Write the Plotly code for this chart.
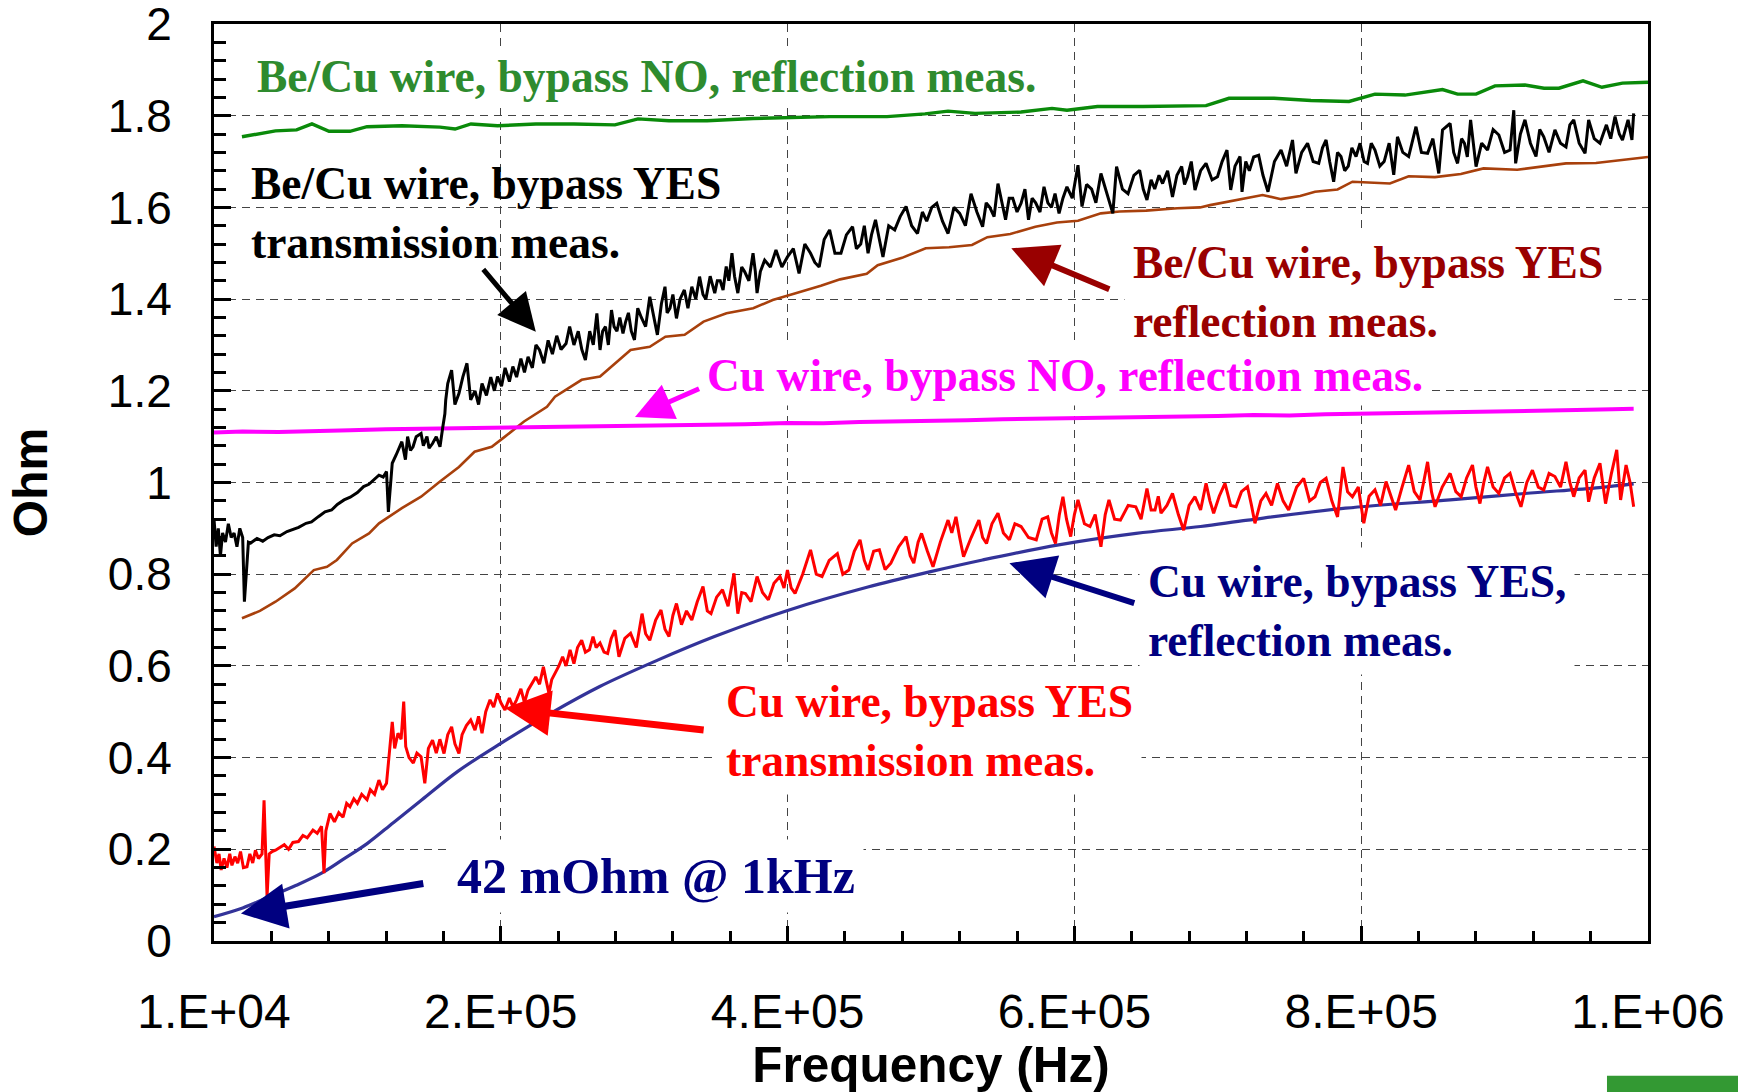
import plotly.graph_objects as go

# ---------------- data (frequency in kHz, impedance in Ohm) ----------------
green_f = [29.5, 39.3, 52.9, 67.6, 78.3, 90.2, 104.8, 116.7, 141.1, 167.6, 178.1, 189.2, 207.7,
           234.5, 261.0, 289.6, 305.7, 327.3, 353.8, 385.9, 412.4, 439.6, 479.3, 505.8, 521.9,
           540.7, 572.8, 594.4, 604.8, 626.1, 657.8, 701.8, 717.8, 749.2, 775.0, 801.5, 819.6,
           840.5, 866.7, 877.2, 890.1, 903.3, 924.2, 937.5, 947.9, 964.7, 977.9, 992.2, 1010.0]
green_v = [1.754, 1.760, 1.767, 1.769, 1.782, 1.766, 1.766, 1.776, 1.778, 1.775, 1.771, 1.782, 1.778,
           1.782, 1.782, 1.780, 1.793, 1.789, 1.789, 1.794, 1.796, 1.798, 1.798, 1.804, 1.810,
           1.805, 1.808, 1.816, 1.812, 1.820, 1.820, 1.822, 1.838, 1.838, 1.833, 1.831, 1.847,
           1.845, 1.857, 1.847, 1.847, 1.865, 1.867, 1.860, 1.860, 1.876, 1.862, 1.871, 1.873]

brown_f = [29.5, 42.0, 52.9, 66.3, 79.6, 88.8, 95.7, 106.3, 118.1, 125.1, 141.0, 154.4, 167.6,
           180.8, 191.7, 203.7, 212.9, 226.2, 242.2, 247.8, 266.4, 279.2, 300.5, 313.9, 324.8,
           338.2, 351.4, 367.4, 386.0, 399.6, 415.6, 433.2, 446.6, 465.2, 472.8, 489.8, 506.3,
           522.6, 538.6, 549.3, 565.3, 582.8, 597.8, 612.5, 628.5, 641.5, 660.0, 681.7, 697.6,
           704.6, 741.2, 754.1, 767.4, 777.8, 793.5, 803.9, 830.0, 843.1, 861.4, 879.5, 895.3,
           918.8, 952.8, 973.7, 1010.0]
brown_v = [0.704, 0.720, 0.740, 0.769, 0.809, 0.816, 0.831, 0.867, 0.889, 0.911, 0.944, 0.969, 1.002,
           1.034, 1.067, 1.078, 1.100, 1.133, 1.165, 1.187, 1.224, 1.231, 1.289, 1.296, 1.318,
           1.322, 1.351, 1.369, 1.380, 1.398, 1.413, 1.429, 1.443, 1.455, 1.474, 1.490, 1.511,
           1.513, 1.518, 1.535, 1.542, 1.558, 1.567, 1.571, 1.587, 1.591, 1.593, 1.598, 1.600,
           1.605, 1.627, 1.618, 1.625, 1.634, 1.639, 1.656, 1.652, 1.668, 1.666, 1.673, 1.685,
           1.682, 1.696, 1.697, 1.710]

magenta_f = [10, 30, 55, 80, 105, 130, 155, 180, 205, 230, 255, 280, 305, 330, 355, 380, 410, 435,
             460, 485, 510, 535, 560, 585, 610, 635, 660, 685, 710, 735, 760, 785, 810, 835, 860,
             885, 910, 935, 960, 985, 1000]
magenta_v = [1.109, 1.111, 1.110, 1.113, 1.114, 1.116, 1.117, 1.119, 1.121, 1.120, 1.122, 1.123,
             1.124, 1.126, 1.125, 1.127, 1.130, 1.129, 1.132, 1.133, 1.133, 1.136, 1.138, 1.139,
             1.140, 1.142, 1.141, 1.144, 1.145, 1.147, 1.146, 1.149, 1.150, 1.152, 1.153, 1.154,
             1.155, 1.157, 1.158, 1.160, 1.161]

navy_f = [10, 30, 49, 67, 85, 100, 117, 135, 155, 180, 210, 245, 279, 319, 359, 410, 466, 509,
          546, 599, 653, 698, 731, 799, 872, 924, 976, 1000]
navy_v = [0.053, 0.072, 0.097, 0.121, 0.148, 0.178, 0.213, 0.258, 0.308, 0.370, 0.431, 0.497,
          0.555, 0.612, 0.664, 0.721, 0.772, 0.805, 0.831, 0.864, 0.889, 0.904, 0.918, 0.944,
          0.962, 0.976, 0.989, 0.997]

black_f = [10, 11.5, 13, 14.5, 16, 18, 20, 22, 24, 26, 28, 30, 31.2, 32.5, 34, 35.6, 40, 44, 47.7,
           52, 56, 60.9, 65, 69, 74.2, 78, 83, 87.4, 92, 96, 100.7, 105, 110, 114.3, 118, 122,
           125, 128, 130.3, 131.6, 134.3, 137, 141, 143.5, 145, 147, 148.8, 151, 154.4, 156,
           158.5, 160, 162.4, 165, 167.6, 169.5, 171, 171.6, 173, 175.7, 178, 180.8, 183.5,
           186.4, 189, 192, 194.5, 196.9, 200, 203, 205.5, 207.7, 210.5, 213, 216, 218.4, 221,
           224, 226.5, 229, 232, 234.5, 237, 240, 243, 246, 249, 252, 255.5, 258, 261, 264,
           266.5, 269, 272, 274.5, 277,
           279.2, 281, 283, 285, 287.2, 289, 291, 293, 295.2, 297, 299, 301, 303.2, 305.5, 308, 311,
           313.9, 316.5, 319.2, 322, 324.5, 326, 328, 330, 332.5, 335, 338, 340.5, 343.2, 346,
           348.6, 351, 353, 356, 359.2, 361, 363, 365, 367.2, 369, 371.2, 373, 375.3, 378, 380,
           383, 385.9, 387.5, 388.7, 391, 394, 398, 401.9, 406, 409.9, 414, 418, 422, 426, 429,
           432, 435.5, 439.3, 443, 447.2, 451, 455.3, 458, 461, 463.5, 466.1, 468.5, 471.3, 474,
           476.5, 480.5, 484.7, 488.5, 492.6, 496.5, 500.6, 504, 507, 510.5, 514, 518, 521.9,
           526, 530, 534, 537.9, 542, 546, 548.5, 551, 554, 556.7, 559.5, 562, 564.5, 567, 570,
           572.8, 575.5, 578, 580.5, 583, 586, 588.8, 591.5, 594, 596.5, 599.3, 602, 604.8,
           608.5, 612.5, 615.3, 618.5, 622, 625, 628.5, 632.5, 636.8, 639.4, 643.5, 647.4,
           651.5, 655.5, 658, 660.6, 663.5, 666, 669, 671.5, 675, 678.4, 681.5, 684.8, 686.8,
           688.9, 691.5, 694.1, 698, 701.8, 706, 709.8, 713, 716.4, 719, 722, 725.5, 726.9,
           729.5, 732, 735, 738.5, 741.5, 745, 749.5, 754.1, 758, 762.1, 764.5, 768.5, 772.6,
           776.5, 780.4, 783, 785.5, 788, 790.8, 793.5, 795.9, 798.5, 801, 803.5, 806.4, 809.2,
           812, 814.4, 817, 819.6, 823, 826, 829.5, 832.7, 835.3, 839, 843.1, 848.2, 852, 856.3,
           860, 864.1, 866.7, 872, 874.5, 877.2, 880, 882, 884, 886.3, 890.1, 894, 898.1, 902,
           906, 910, 913.8, 916.4, 917.7, 921, 924.2, 928, 931.9, 934.5, 937.3, 941, 945.1, 949,
           952.8, 955.5, 958.2, 962, 966.1, 968.6, 972.5, 976.5, 981, 984, 987, 990, 992.2,
           996.1, 998.8, 1000]
black_v = [0.92, 0.86, 0.90, 0.84, 0.89, 0.87, 0.91, 0.88, 0.89, 0.86, 0.90, 0.88, 0.74, 0.80, 0.87,
           0.868, 0.878, 0.872, 0.880, 0.886, 0.884, 0.893, 0.898, 0.902, 0.911, 0.914, 0.926,
           0.936, 0.940, 0.952, 0.962, 0.968, 0.978, 0.991, 0.996, 1.008, 1.016, 1.012, 1.024,
           0.936, 1.042, 1.06, 1.089, 1.05, 1.10, 1.07, 1.078, 1.10, 1.107, 1.08, 1.10, 1.075,
           1.085, 1.10, 1.078, 1.12, 1.15, 1.18, 1.216, 1.245, 1.17, 1.194, 1.23, 1.260, 1.180,
           1.20, 1.17, 1.216, 1.19, 1.23, 1.20, 1.231, 1.21, 1.25, 1.22, 1.253, 1.23, 1.27, 1.24,
           1.274, 1.25, 1.30, 1.289, 1.26, 1.31, 1.28, 1.32, 1.29, 1.303, 1.34, 1.30, 1.33, 1.29,
           1.267, 1.33, 1.30, 1.369,
           1.289, 1.33, 1.34, 1.30, 1.376, 1.34, 1.33, 1.36, 1.325, 1.35, 1.37, 1.33, 1.311, 1.38,
           1.36, 1.34, 1.405, 1.36, 1.322, 1.39, 1.427, 1.37, 1.38, 1.41, 1.358, 1.40, 1.42, 1.38,
           1.427, 1.40, 1.449, 1.41, 1.40, 1.45, 1.413, 1.44, 1.44, 1.42, 1.471, 1.44, 1.500,
           1.45, 1.413, 1.47, 1.46, 1.44, 1.500, 1.46, 1.413, 1.46, 1.485, 1.47, 1.507, 1.47,
           1.492, 1.51, 1.456, 1.52, 1.500, 1.48, 1.47, 1.53, 1.551, 1.50, 1.500, 1.54, 1.558,
           1.51, 1.52, 1.56, 1.500, 1.54, 1.573, 1.53, 1.492, 1.56, 1.551, 1.58, 1.602, 1.56,
           1.543, 1.59, 1.57, 1.60, 1.609, 1.57, 1.543, 1.60, 1.587, 1.56, 1.630, 1.59, 1.558,
           1.61, 1.60, 1.58, 1.652, 1.61, 1.573, 1.62, 1.62, 1.59, 1.609, 1.64, 1.573, 1.62, 1.61,
           1.59, 1.645, 1.61, 1.60, 1.63, 1.587, 1.62, 1.645, 1.62, 1.692, 1.602, 1.65, 1.64,
           1.61, 1.674, 1.63, 1.587, 1.689, 1.64, 1.630, 1.67, 1.681, 1.64, 1.616, 1.66, 1.64,
           1.67, 1.652, 1.68, 1.623, 1.67, 1.689, 1.65, 1.667, 1.70, 1.638, 1.68, 1.696, 1.66,
           1.667, 1.70, 1.725, 1.638, 1.69, 1.711, 1.634, 1.70, 1.68, 1.71, 1.714, 1.67, 1.634,
           1.70, 1.725, 1.69, 1.747, 1.674, 1.72, 1.740, 1.70, 1.696, 1.73, 1.747, 1.70, 1.656,
           1.72, 1.711, 1.68, 1.69, 1.73, 1.711, 1.740, 1.70, 1.696, 1.74, 1.725, 1.69, 1.70,
           1.74, 1.671, 1.754, 1.72, 1.711, 1.776, 1.72, 1.718, 1.75, 1.674, 1.769, 1.783, 1.72,
           1.696, 1.75, 1.74, 1.71, 1.791, 1.689, 1.74, 1.725, 1.77, 1.758, 1.72, 1.725, 1.812,
           1.696, 1.76, 1.791, 1.74, 1.711, 1.77, 1.754, 1.72, 1.769, 1.74, 1.732, 1.78, 1.791,
           1.74, 1.718, 1.791, 1.75, 1.740, 1.78, 1.75, 1.798, 1.76, 1.747, 1.791, 1.747, 1.805]

red_f = [10, 12, 13.5, 15, 17, 19, 21, 22.5, 24.6, 26.5, 28.5, 30.5, 33, 35, 37, 38.9, 41, 43.5,
         44.9, 45.5, 47, 48.5, 50.5, 52.9, 56, 59, 62, 65, 68.9, 72, 75, 79, 82, 85, 86.7, 88,
         90.9, 94, 97, 100, 102.5, 104.8, 107.5, 110, 113, 116.7, 119, 122, 125, 127.5, 130.3,
         132, 134.3, 136, 138.3, 140.5, 142.3, 143.7, 146, 149, 151.5, 154.4, 157, 159.5, 162.4,
         165, 167.5, 170.4, 173, 175.7, 178, 180.8, 183, 186, 189, 192, 194.5, 196.9, 199.5,
         202.5, 205, 207.7, 210, 212.9, 216, 218.5, 221, 224, 226.5, 229, 231.5, 234.4, 237,
         239.7, 241.5, 243.6, 245.5, 247.8, 250.5, 253.1, 255.5, 258.3, 261, 263.5, 266.4, 269,
         271.8, 274.3, 276.5,
         279.2, 282, 284.5, 287, 289.6, 292.4, 296.5, 300.5, 304.5, 308.5, 311, 313.9, 318,
         321.7, 324.5, 327.3, 330, 332.5, 336, 339.5, 343.2, 347, 351, 354, 356.6, 360.5, 364.6,
         368.5, 372.6, 375.3, 378, 380.6, 384.5, 388.7, 392.5, 396.6, 400.5, 404.7, 407.5,
         409.9, 412.5, 415.2, 420.5, 426, 430, 434, 439, 444.7, 448.5, 452.7, 456.5, 460.5,
         463.5, 466.1, 470, 474, 478, 482, 487.5, 492.6, 495.5, 498, 501, 503.4, 507.5, 511.4,
         516.5, 521.9, 524.5, 527.4, 530, 532.7, 538, 543.4, 546, 548.7, 552.5, 556.7, 560.5,
         564.7, 568.5, 572.8, 578, 583.4, 587.5, 591.4, 594, 596.8, 599.5, 602, 604.5, 607.4,
         610, 612.5, 617, 620.9, 624.5, 628.5, 631.5, 634.1, 638, 642.1, 647.5, 652.8, 656.5,
         660.6, 663.5, 666.2, 668.5, 670.4, 674.5, 678.4, 682.5, 686.2, 690, 694.1, 698, 701.8,
         704.5, 707.1, 711, 715, 719, 722.7, 726.5, 730.7, 733.5, 735.9, 740, 743.6, 747.5,
         751.6, 755.5, 759.4, 765, 769.9, 774, 777.8, 781.5, 785.5, 789.5, 793.5, 797.3, 800.5,
         803.9, 808, 811.8, 815.5, 819.6, 823.5, 827.3, 830.5, 834, 838.5, 843.1, 847, 851,
         853.5, 856.3, 859, 861.5, 866.5, 872, 876, 879.7, 883.5, 887.6, 890, 892.8, 895.5,
         898.1, 902, 906, 910, 913.8, 917.5, 921.4, 925.5, 929.4, 933.5, 937.3, 941, 945.1, 949,
         952.8, 955.5, 958.2, 962, 966.1, 968.6, 972.5, 976.5, 978.5, 980.4, 984.5, 988.2, 990.9,
         994.7, 997.5, 1000]
red_v = [0.206, 0.17, 0.19, 0.155, 0.18, 0.16, 0.19, 0.165, 0.184, 0.17, 0.195, 0.16, 0.162, 0.19,
         0.17, 0.198, 0.18, 0.19, 0.307, 0.25, 0.097, 0.19, 0.195, 0.198, 0.205, 0.21, 0.20, 0.215,
         0.217, 0.23, 0.225, 0.242, 0.235, 0.25, 0.148, 0.24, 0.278, 0.26, 0.28, 0.27, 0.30, 0.293,
         0.31, 0.30, 0.32, 0.308, 0.33, 0.32, 0.351, 0.33, 0.344, 0.40, 0.478, 0.42, 0.453, 0.44,
         0.522, 0.424, 0.40, 0.388, 0.41, 0.402, 0.344, 0.42, 0.438, 0.41, 0.44, 0.409, 0.45,
         0.467, 0.43, 0.409, 0.45, 0.47, 0.482, 0.46, 0.49, 0.453, 0.50, 0.526, 0.51, 0.540, 0.52,
         0.504, 0.53, 0.51, 0.526, 0.55, 0.52, 0.547, 0.56, 0.576, 0.56, 0.598, 0.57, 0.540, 0.57,
         0.584, 0.60, 0.620, 0.60, 0.635, 0.605, 0.64, 0.656, 0.63, 0.635, 0.664, 0.64,
         0.650, 0.63, 0.627, 0.66, 0.678, 0.620, 0.66, 0.671, 0.64, 0.714, 0.67, 0.656, 0.70,
         0.722, 0.68, 0.664, 0.71, 0.736, 0.69, 0.72, 0.700, 0.74, 0.773, 0.72, 0.714, 0.75,
         0.766, 0.73, 0.802, 0.714, 0.76, 0.758, 0.74, 0.795, 0.76, 0.744, 0.78, 0.795, 0.77,
         0.809, 0.77, 0.758, 0.80, 0.853, 0.80, 0.795, 0.83, 0.845, 0.80, 0.809, 0.85, 0.875,
         0.83, 0.809, 0.85, 0.853, 0.81, 0.824, 0.86, 0.882, 0.84, 0.824, 0.87, 0.889, 0.85,
         0.816, 0.87, 0.918, 0.89, 0.925, 0.88, 0.838, 0.88, 0.918, 0.88, 0.867, 0.91, 0.933,
         0.89, 0.875, 0.91, 0.904, 0.88, 0.875, 0.92, 0.925, 0.89, 0.867, 0.93, 0.969, 0.92,
         0.882, 0.93, 0.962, 0.91, 0.904, 0.93, 0.860, 0.93, 0.962, 0.92, 0.918, 0.95, 0.947,
         0.92, 0.987, 0.94, 0.940, 0.97, 0.933, 0.95, 0.976, 0.93, 0.896, 0.95, 0.969, 0.94,
         0.998, 0.96, 0.933, 0.97, 0.998, 0.95, 0.947, 0.98, 0.991, 0.95, 0.911, 0.96, 0.976,
         0.95, 0.998, 0.96, 0.940, 0.99, 1.009, 0.96, 0.969, 1.00, 1.009, 0.96, 0.925, 1.034,
         0.98, 0.969, 0.99, 0.911, 0.97, 0.984, 0.95, 1.002, 0.97, 0.940, 0.99, 1.038, 0.98,
         0.962, 1.00, 1.045, 0.98, 0.947, 0.99, 1.020, 0.98, 0.969, 1.01, 1.038, 0.99, 0.954,
         1.00, 1.034, 0.99, 0.976, 1.01, 1.020, 0.98, 0.947, 1.00, 1.027, 0.99, 0.984, 1.02,
         1.013, 0.99, 1.045, 1.00, 0.969, 1.01, 1.027, 0.958, 1.01, 1.042, 0.99, 0.954, 1.02,
         1.071, 0.962, 1.038, 1.00, 0.947]

x_tick_vals = [10000, 210000, 410000, 610000, 810000, 1010000]
x_tick_text = ["1.E+04", "2.E+05", "4.E+05", "6.E+05", "8.E+05", "1.E+06"]
y_tick_vals = [0, 0.2, 0.4, 0.6, 0.8, 1.0, 1.2, 1.4, 1.6, 1.8, 2.0]
y_tick_text = ["0", "0.2", "0.4", "0.6", "0.8", "1", "1.2", "1.4", "1.6", "1.8", "2"]


def hz(k):
    return [v * 1000.0 for v in k]


fig = go.Figure()
fig.add_trace(go.Scatter(x=hz(green_f), y=green_v, mode="lines",
                         line=dict(color="#0A8A0A", width=3.4)))
fig.add_trace(go.Scatter(x=hz(brown_f), y=brown_v, mode="lines",
                         line=dict(color="#A8400C", width=2.6)))
fig.add_trace(go.Scatter(x=hz(magenta_f), y=magenta_v, mode="lines",
                         line=dict(color="#FF00FF", width=4)))
fig.add_trace(go.Scatter(x=hz(navy_f), y=navy_v, mode="lines", line_shape="spline",
                         line=dict(color="#333399", width=3.2)))
fig.add_trace(go.Scatter(x=hz(black_f), y=black_v, mode="lines",
                         line=dict(color="#000000", width=3)))
fig.add_trace(go.Scatter(x=hz(red_f), y=red_v, mode="lines",
                         line=dict(color="#FF0000", width=3)))

SERIF = "Liberation Serif, Times New Roman, serif"
SANS = "Liberation Sans, Arial, sans-serif"


def label(text, x, y, color, size=45.5, bg=True, pad=8):
    fig.add_annotation(x=x, y=y, xref="x", yref="y", text=text, showarrow=False,
                       xanchor="left", yanchor="middle", align="left",
                       font=dict(family=SERIF, size=size, color=color),
                       bgcolor="white" if bg else "rgba(0,0,0,0)", borderpad=pad,
                       xshift=-(pad + 1), yshift=-1)


def arrow(x_head, y_head, x_tail, y_tail, color, width=6, size=1.5):
    fig.add_annotation(x=x_head, y=y_head, ax=x_tail, ay=y_tail, xref="x", yref="y",
                       axref="x", ayref="y", text="", showarrow=True, arrowhead=2,
                       arrowsize=size, arrowwidth=width, arrowcolor=color)


label("<b>Be/Cu wire, bypass NO, reflection meas.</b>", 40000, 1.888, "#2E8B2E", pad=2)
label("<b>Be/Cu wire, bypass YES<br>transmission meas.</b>", 35500, 1.589, "#000000", bg=False)
label("<b>Be/Cu wire, bypass YES<br>reflection meas.</b>", 650700, 1.418, "#990000")
label("<b>Cu wire, bypass NO, reflection meas.</b>", 353900, 1.235, "#FF00FF", pad=4)
label("<b>Cu wire, bypass YES,<br>reflection meas.</b>", 661500, 0.723, "#000080")
label("<b>Cu wire, bypass YES<br>transmission meas.</b>", 367000, 0.460, "#FF0000")
label("<b>42 mOhm @ 1kHz</b>", 179200, 0.145, "#000080", size=50)

arrow(234400, 1.329, 196900, 1.468, "#000000", 5)
arrow(566000, 1.511, 635400, 1.420, "#990000")
arrow(303600, 1.143, 349300, 1.206, "#FF00FF", 5)
arrow(564700, 0.824, 652800, 0.736, "#000080")
arrow(212900, 0.508, 352500, 0.460, "#FF0000", 7, 1.3)
arrow(28800, 0.060, 157000, 0.126, "#000080", 7, 1.3)

# CERN logo fragment at the bottom-right corner
fig.add_shape(type="rect", xref="paper", yref="paper", x0=0.9714, x1=1.07, y0=-0.147, y1=-0.17,
              fillcolor="#339933", line=dict(width=0), layer="above")

minor_x = [10000 + 40000 * i for i in range(26) if i % 5 != 0]
minor_y = [0.04 * i for i in range(51) if i % 5 != 0]

fig.update_xaxes(range=[10000, 1010000], tickmode="array", tickvals=x_tick_vals, ticktext=x_tick_text,
                 ticks="inside", ticklen=15, tickwidth=2.5, tickcolor="black",
                 showline=True, linewidth=3, linecolor="black", mirror=True,
                 showgrid=True, gridcolor="#444444", gridwidth=1, griddash="8px,6px",
                 zeroline=False, ticklabelstandoff=26, ticklabeloverflow="allow", automargin=False,
                 tickfont=dict(family=SANS, size=48, color="black"),
                 minor=dict(tickmode="array", tickvals=minor_x, ticks="inside", ticklen=10,
                            tickwidth=2.5, tickcolor="black", showgrid=False),
                 title=dict(text="<b>Frequency (Hz)</b>", standoff=18,
                            font=dict(family=SANS, size=49.5, color="black")))
fig.update_yaxes(range=[0, 2], tickmode="array", tickvals=y_tick_vals, ticktext=y_tick_text,
                 ticks="inside", ticklen=17, tickwidth=2.5, tickcolor="black",
                 showline=True, linewidth=3, linecolor="black", mirror=True,
                 showgrid=True, gridcolor="#444444", gridwidth=1, griddash="8px,6px",
                 zeroline=False, ticklabelstandoff=30, ticklabeloverflow="allow", automargin=False,
                 tickfont=dict(family=SANS, size=46, color="black"),
                 minor=dict(tickmode="array", tickvals=minor_y, ticks="inside", ticklen=12,
                            tickwidth=2.5, tickcolor="black", showgrid=False),
                 title=dict(text="<b>Ohm</b>", standoff=46,
                            font=dict(family=SANS, size=48, color="black")))

fig.update_layout(width=1738, height=1092, autosize=False, showlegend=False,
                  margin=dict(l=214, r=90, t=24, b=151),
                  paper_bgcolor="white", plot_bgcolor="white")

fig.write_html("out.html")
